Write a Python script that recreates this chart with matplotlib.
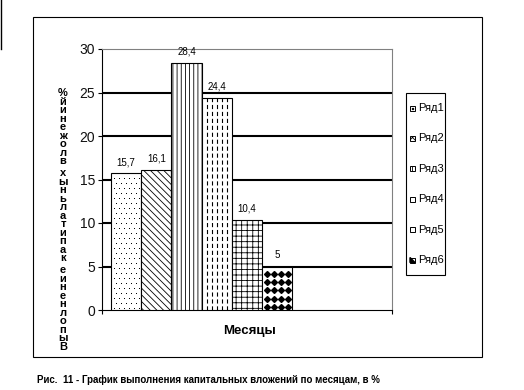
import numpy as np
import matplotlib
matplotlib.use('Agg')
import matplotlib.pyplot as plt
from matplotlib.patches import Rectangle, Polygon
from matplotlib.lines import Line2D

# данные
series = ['Ряд1', 'Ряд2', 'Ряд3', 'Ряд4', 'Ряд5', 'Ряд6']
values = [15.7, 16.1, 28.4, 24.4, 10.4, 5]
value_labels = ['15,7', '16,1', '28,4', '24,4', '10,4', '5']
yticks = [0, 5, 10, 15, 20, 25, 30]
ylabel = 'Выполнение капитальных вложений%'
xlabel = 'Месяцы'
caption = 'Рис.  11 - График выполнения капитальных вложений по месяцам, в %'

hatches = [None, '\\\\\\\\\\', '||||', None, '+++', None]
legend_hatches = [None, 'xxxx', '||', '|', None, None]

plt.rcParams['font.family'] = ['Liberation Sans', 'DejaVu Sans']
plt.rcParams['hatch.linewidth'] = 0.6
plt.rcParams['lines.scale_dashes'] = False

W, H = 524, 390
fig = plt.figure(figsize=(W / 100, H / 100), dpi=100)


def fx(px):
    return px / W


def fy(py):
    return 1 - py / H


ax = fig.add_axes([fx(102), fy(310), fx(392) - fx(102), fy(49) - fy(310)])
px_x = 1 / 290      # один пиксель по x в единицах данных
px_y = 30 / 261     # один пиксель по y

bar_w = 30.2 / 290
lefts = 9 / 290 + np.arange(len(values)) * bar_w
bars = ax.bar(lefts, values, width=bar_w, align='edge', color='white',
              edgecolor='black', linewidth=0.8, zorder=3)
for b, h in zip(bars, hatches):
    if h:
        b.set_hatch(h)

# Ряд1 - мелкие точки
l1, v1 = lefts[0], values[0]
pts_x, pts_y = [], []
for r, yy in enumerate(np.arange(2.5 * px_y, v1, 5 * px_y)):
    shift = 2.5 * px_x if r % 2 else 0
    for xx in np.arange(l1 + 2.5 * px_x + shift, l1 + bar_w, 5 * px_x):
        pts_x.append(xx)
        pts_y.append(yy)
ax.plot(pts_x, pts_y, 's', ms=0.7, mew=0, color='black', zorder=4)

# Ряд4 - пунктирные вертикальные линии
l4, v4 = lefts[3], values[3]
xs = np.linspace(l4 + bar_w / 6, l4 + 5 * bar_w / 6, 5)
ax.vlines(xs, 0, v4, colors='black', linewidth=0.8,
          linestyles=[(0, (3, 2))], zorder=4)

# Ряд6 - ромбы
l6, v6 = lefts[5], values[5]
cols = np.linspace(l6 + bar_w * 0.17, l6 + bar_w * 0.87, 4)
rows = 0.35 + 0.95 * np.arange(5)
X, Y = np.meshgrid(cols, rows)
dots, = ax.plot(X.ravel(), Y.ravel(), 'D', ms=3.0, color='black', zorder=4)
dots.set_clip_path(bars[5])

# подписи значений
for l, v, lbl in zip(lefts, values, value_labels):
    ax.annotate(lbl, (l + bar_w / 2, v), xytext=(0, 8), textcoords='offset points',
                ha='center', va='center', fontsize=7)

ax.hlines(yticks[1:-1], 0, 1, colors='black', linewidth=1.5, zorder=1)

ax.set_xlim(0, 1)
ax.set_ylim(0, 30)
ax.set_yticks(yticks)
ax.set_xticks([0, 1])
ax.set_xticklabels([])
ax.tick_params(axis='x', length=3, width=0.8)
ax.tick_params(axis='y', length=3, width=0.8, labelsize=10, pad=2, labelcolor='#111111')
for s in ['left', 'bottom']:
    ax.spines[s].set_color('black')
    ax.spines[s].set_linewidth(0.8)
for s in ['top', 'right']:
    ax.spines[s].set_color('#808080')
    ax.spines[s].set_linewidth(0.8)

# вертикальная подпись оси (буквы столбиком, снизу вверх)
yy = 93
for ch in reversed(ylabel):
    if ch == ' ':
        yy += 3
        continue
    fig.text(fx(63), fy(yy), ch, ha='center', va='center',
             fontsize=8, fontweight='bold')
    yy += 8.55

fig.text(fx(250), fy(331), xlabel, ha='center', va='center',
         fontsize=9.5, fontweight='bold')

# легенда
fig.add_artist(Rectangle((fx(406), fy(275)), fx(445) - fx(406), fy(93) - fy(275),
                         fill=False, edgecolor='black', linewidth=0.8,
                         transform=fig.transFigure))
for i, name in enumerate(series):
    yc = 108 + i * 30.4
    sq = Rectangle((fx(410), fy(yc + 2.5)), fx(5), 5 / H, facecolor='white',
                   edgecolor='black', linewidth=0.7, transform=fig.transFigure)
    if legend_hatches[i]:
        sq.set_hatch(legend_hatches[i])
    fig.add_artist(sq)
    if i == 0:
        fig.add_artist(Rectangle((fx(412), fy(yc + 0.5)), fx(1), 1 / H, color='black',
                                 transform=fig.transFigure))
    if i == 5:
        fig.add_artist(Polygon([(fx(410), fy(yc + 2.5)), (fx(415), fy(yc + 2.5)),
                                (fx(410), fy(yc - 2.5))], closed=True,
                               color='black', transform=fig.transFigure))
    fig.text(fx(418), fy(yc), name, ha='left', va='center', fontsize=8)

# рамка
fig.add_artist(Rectangle((fx(33), fy(357)), fx(482) - fx(33), fy(17) - fy(357),
                         fill=False, edgecolor='black', linewidth=0.8,
                         transform=fig.transFigure))
fig.add_artist(Line2D([fx(1), fx(1)], [fy(0), fy(49)], color='black',
                      linewidth=1, transform=fig.transFigure))

fig.text(fx(37), fy(380), caption, ha='left', va='center', fontsize=7,
         fontweight='bold')

fig.savefig('out.png', dpi=100)
